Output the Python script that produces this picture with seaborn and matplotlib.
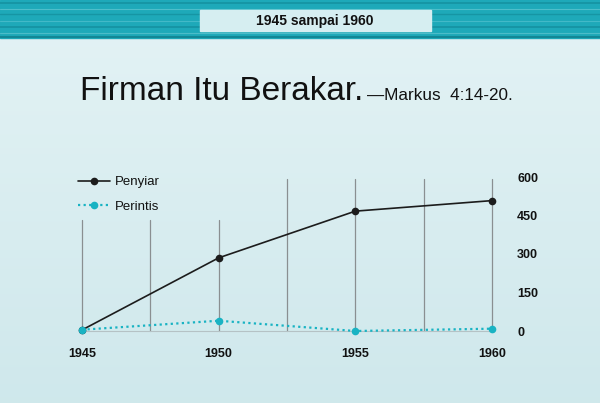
import numpy as np
import pandas as pd
import matplotlib
matplotlib.use("Agg")
import matplotlib.pyplot as plt
import seaborn as sns
from matplotlib.lines import Line2D

years = [1945, 1950, 1955, 1960]
penyiar = [4, 285, 467, 508]
perintis = [5, 40, 0, 9]
series_names = ["Penyiar", "Perintis"]
y_ticks = [0, 150, 300, 450, 600]
banner_text = "1945 sampai 1960"
title_main = "Firman Itu Berakar."
title_ref = "\u2014Markus  4:14-20."

sns.set_theme(style="white")
plt.rcParams['font.family'] = ['Liberation Sans', 'DejaVu Sans']

df = pd.DataFrame({
    "Tahun": years * 2,
    "Jumlah": penyiar + perintis,
    "Seri": [series_names[0]] * 4 + [series_names[1]] * 4,
})

W, H = 600, 403
fig = plt.figure(figsize=(6, 4.03), dpi=100)

# background gradient
bg = fig.add_axes([0, 0, 1, 1], zorder=-10)
grad = np.linspace(0, 1, 256).reshape(-1, 1)
top = np.array([0.894, 0.953, 0.961])
bot = np.array([0.812, 0.910, 0.925])
img = top[None, None, :] * (1 - grad[:, :, None]) + bot[None, None, :] * grad[:, :, None]
bg.imshow(img, aspect="auto", extent=[0, W, H, 0])
# teal banner
bg.add_patch(plt.Rectangle((0, 0), W, 38, color="#1ea9b9", zorder=1))
for yy, c, lw in [(3, "#138d9c", 1.2), (9, "#5cc4cf", 0.8), (14, "#14909f", 1.0),
                  (21, "#4dbecb", 0.8), (27, "#138c9b", 1.2), (33, "#58c2cd", 0.8),
                  (37, "#0f7f8d", 1.5)]:
    bg.plot([0, W], [yy, yy], color=c, lw=lw, zorder=2, alpha=0.8)
bg.add_patch(plt.Rectangle((200, 10), 231, 21, color="#d6eef1", zorder=3))
bg.text(315, 20.5, banner_text, ha="center", va="center", fontsize=10,
        fontweight="bold", color="#111111", zorder=4)
bg.text(80, 100, title_main, ha="left", va="baseline", fontsize=24, color="#111111")
bg.text(367, 100, title_ref, ha="left", va="baseline", fontsize=12.3, color="#111111")
bg.set_xlim(0, W)
bg.set_ylim(H, 0)
bg.axis("off")

# main axes
x0, x1 = 82, 492
yb, yt = 331, 177
ax = fig.add_axes([x0 / W, 1 - yb / H, (x1 - x0) / W, (yb - yt) / H])
ax.patch.set_alpha(0)
ax.set_xlim(1945, 1960)
ax.set_ylim(0, 600)

# vertical grid lines
grid_x = [1945, 1947.5, 1950, 1952.5, 1955, 1957.5, 1960]
grid_top = [432, 432, 432, 592, 592, 592, 592]
for gx, gt in zip(grid_x, grid_top):
    ax.plot([gx, gx], [0, gt], color="#8a8f91", lw=0.9, zorder=1, clip_on=False)
ax.plot([1945, 1960], [0, 0], color="#b5c2c5", lw=0.8, zorder=1, clip_on=False)

sns.lineplot(data=df, x="Tahun", y="Jumlah", hue="Seri", style="Seri",
             palette={"Penyiar": "#1c1c1c", "Perintis": "#19b3c3"},
             dashes={"Penyiar": "", "Perintis": (1, 1.5)},
             markers={"Penyiar": "o", "Perintis": "o"},
             markersize=5.5, markeredgewidth=0, linewidth=1.2,
             ax=ax, legend=False, clip_on=False, zorder=3)
for ln in ax.lines[-2:]:
    ln.set_clip_on(False)
ax.lines[-1].set_linewidth(1.6)

sns.despine(ax=ax, left=True, bottom=True, right=True, top=True)
ax.set_xlabel("")
ax.set_ylabel("")
ax.set_xticks(years)
ax.set_xticklabels([str(y) for y in years], fontsize=9, fontweight="bold", color="#111111")
ax.tick_params(axis="x", length=0, pad=12)
ax.yaxis.tick_right()
ax.set_yticks(y_ticks)
ax.set_yticklabels([str(v) for v in y_ticks], fontsize=9, fontweight="bold", color="#111111")
ax.tick_params(axis="y", length=0, pad=18)

handles = [
    Line2D([], [], color="#1c1c1c", lw=1.2, marker="o", markersize=5.5, markeredgewidth=0),
    Line2D([], [], color="#19b3c3", lw=1.6, ls=(0, (1, 1.5)), marker="o", markersize=5.5, markeredgewidth=0),
]
leg = fig.legend(handles, series_names, loc="upper left",
                 bbox_to_anchor=(78 / W, 1 - 176 / H), frameon=False,
                 fontsize=9.5, handlelength=2.4, labelspacing=0.95, handletextpad=0.4,
                 borderaxespad=0, borderpad=0)
for t in leg.get_texts():
    t.set_color("#111111")
    t.set_fontweight("medium")

fig.savefig("out.png", dpi=100)
